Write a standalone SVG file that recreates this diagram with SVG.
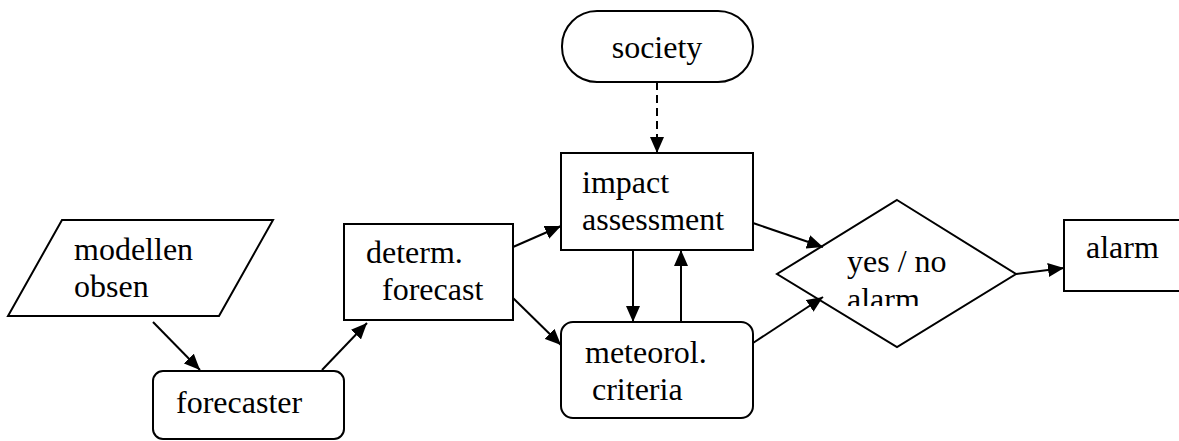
<svg xmlns="http://www.w3.org/2000/svg" width="1179" height="441" viewBox="0 0 1179 441">
  <style>
    .shape { fill: #fff; stroke: #000; stroke-width: 2; }
    .label { font-family: 'Liberation Serif', 'Times New Roman', serif; font-size: 32px; fill: #000; }
    .edge { fill: none; stroke: #000; stroke-width: 2; }
    .dashed { stroke-dasharray: 8 5; }
  </style>
  <defs>
    <marker id="arrow" markerUnits="userSpaceOnUse" markerWidth="18" markerHeight="14" refX="16" refY="7" orient="auto">
      <path d="M0,0 L16,7 L0,14 Z" fill="#000"/>
    </marker>
    <!-- the decision text box is smaller than its two lines, so the second line is cut -->
    <clipPath id="decisionClip">
      <rect x="770" y="195" width="260" height="111"/>
    </clipPath>
  </defs>

  <rect width="1179" height="441" fill="#fff"/>

  <g id="modellen-obsen">
    <polygon class="shape" points="62,220 273,220 219,316 8,316"/>
    <text class="label" x="74" y="260">modellen</text>
    <text class="label" x="74" y="297">obsen</text>
  </g>

  <g id="forecaster">
    <rect class="shape" x="153" y="371" width="191" height="68" rx="10"/>
    <text class="label" x="176" y="413">forecaster</text>
  </g>

  <g id="determ-forecast">
    <rect class="shape" x="344" y="224" width="169" height="96"/>
    <text class="label" x="366" y="263">determ.</text>
    <text class="label" x="382" y="300">forecast</text>
  </g>

  <g id="society">
    <rect class="shape" x="562" y="11" width="191" height="71" rx="35"/>
    <text class="label" x="657" y="58" text-anchor="middle">society</text>
  </g>

  <g id="impact-assessment">
    <rect class="shape" x="561" y="153" width="192" height="97"/>
    <text class="label" x="582" y="193">impact</text>
    <text class="label" x="582" y="230">assessment</text>
  </g>

  <g id="meteorol-criteria">
    <rect class="shape" x="561" y="322" width="192" height="96" rx="12"/>
    <text class="label" x="585" y="363">meteorol.</text>
    <text class="label" x="592" y="400">criteria</text>
  </g>

  <g id="yes-no-alarm">
    <polygon class="shape" points="897,200 1016,274 897,347 777,274"/>
    <g clip-path="url(#decisionClip)">
      <text class="label" x="847" y="272">yes / no</text>
      <text class="label" x="847" y="310">alarm</text>
    </g>
  </g>

  <g id="alarm">
    <rect class="shape" x="1064" y="220" width="130" height="71"/>
    <text class="label" x="1086" y="258">alarm</text>
  </g>

  <g id="connectors">
    <line class="edge" x1="153" y1="322" x2="200" y2="370" marker-end="url(#arrow)"/>
    <line class="edge" x1="322" y1="370" x2="367" y2="323" marker-end="url(#arrow)"/>
    <line class="edge" x1="513" y1="247" x2="561" y2="226" marker-end="url(#arrow)"/>
    <line class="edge" x1="513" y1="298" x2="561" y2="345" marker-end="url(#arrow)"/>
    <line class="edge dashed" x1="657" y1="82" x2="657" y2="153" marker-end="url(#arrow)"/>
    <line class="edge" x1="633" y1="250" x2="633" y2="322" marker-end="url(#arrow)"/>
    <line class="edge" x1="681" y1="322" x2="681" y2="250" marker-end="url(#arrow)"/>
    <line class="edge" x1="753" y1="223" x2="823" y2="247" marker-end="url(#arrow)"/>
    <line class="edge" x1="753" y1="343" x2="823" y2="297" marker-end="url(#arrow)"/>
    <line class="edge" x1="1016" y1="274" x2="1064" y2="268" marker-end="url(#arrow)"/>
  </g>
</svg>
